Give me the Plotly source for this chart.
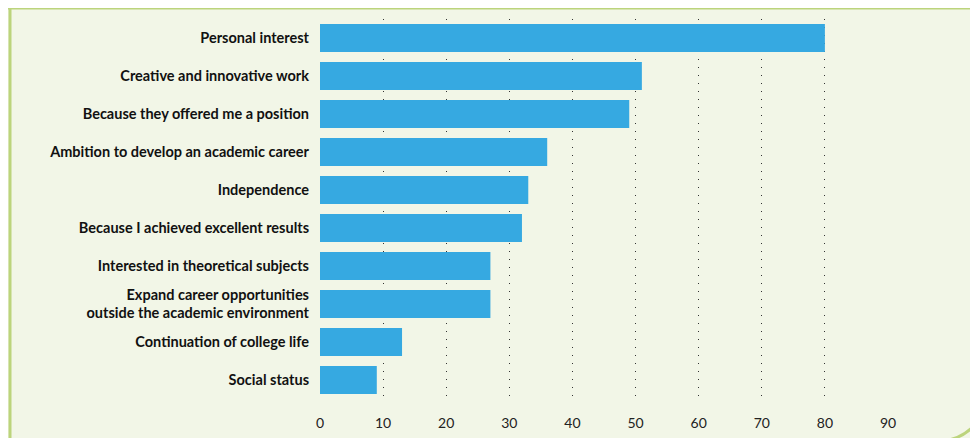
import plotly.graph_objects as go

# Data
categories = [
    "Personal interest",
    "Creative and innovative work",
    "Because they offered me a position",
    "Ambition to develop an academic career",
    "Independence",
    "Because I achieved excellent results",
    "Interested in theoretical subjects",
    "Expand career opportunities<br>outside the academic environment",
    "Continuation of college life",
    "Social status",
]
values = [80, 51, 49, 36, 33, 32, 27, 27, 13, 9]
tick_vals = [0, 10, 20, 30, 40, 50, 60, 70, 80, 90]

W, H = 978, 438
OFF = 8  # page body margin
BG = "#f2f6e7"
GREEN = "#bcd47c"
BLUE = "#36a9e1"

# plot area in screen pixels
L, R, T, B = 320, 888, 19, 399


def px(x):
    return (x - L) / (R - L)


def py(y):
    return (B - y) / (B - T)


fig = go.Figure()
fig.add_trace(go.Bar(
    y=categories[::-1],
    x=values[::-1],
    orientation="h",
    marker=dict(color=BLUE, line=dict(width=0)),
    width=0.74,
    hoverinfo="skip",
))

# decorative frame lines
shapes = [
    dict(type="line", xref="paper", yref="paper",
         x0=px(8), x1=px(995), y0=py(8), y1=py(8),
         line=dict(color=GREEN, width=3)),
    dict(type="line", xref="paper", yref="paper",
         x0=px(10), x1=px(10), y0=py(0), y1=py(445),
         line=dict(color=GREEN, width=3)),
]
# rounded corner bottom right
path = "M {:.4f},{:.4f} Q {:.4f},{:.4f} {:.4f},{:.4f}".format(
    px(942), py(441), px(972), py(438), px(985), py(408))
shapes.append(dict(type="path", xref="paper", yref="paper", path=path,
                   line=dict(color=GREEN, width=3)))

fig.update_layout(
    width=W, height=H,
    margin=dict(l=L - OFF, r=W - R + OFF, t=T - OFF, b=H - B + OFF),
    paper_bgcolor=BG, plot_bgcolor=BG,
    showlegend=False,
    bargap=0.26,
    font=dict(family="Lato, sans-serif", color="#111111"),
    shapes=shapes,
    xaxis=dict(
        range=[0, 90],
        tickvals=tick_vals,
        showgrid=True, gridcolor="#333333", gridwidth=1, griddash="1px,7px",
        zeroline=False, showline=False, ticks="",
        tickfont=dict(family="Lato, sans-serif", size=14, color="#222222"),
        ticklabelstandoff=14,
        fixedrange=True,
    ),
    yaxis=dict(
        showgrid=False, zeroline=False, showline=False, ticks="",
        tickfont=dict(family="Lato, sans-serif", size=14.5, color="#111111",
                      weight="bold"),
        ticklabelstandoff=10,
        range=[-0.5, 9.5],
        fixedrange=True,
    ),
)

fig.write_html("out.html", config={"displayModeBar": False})
